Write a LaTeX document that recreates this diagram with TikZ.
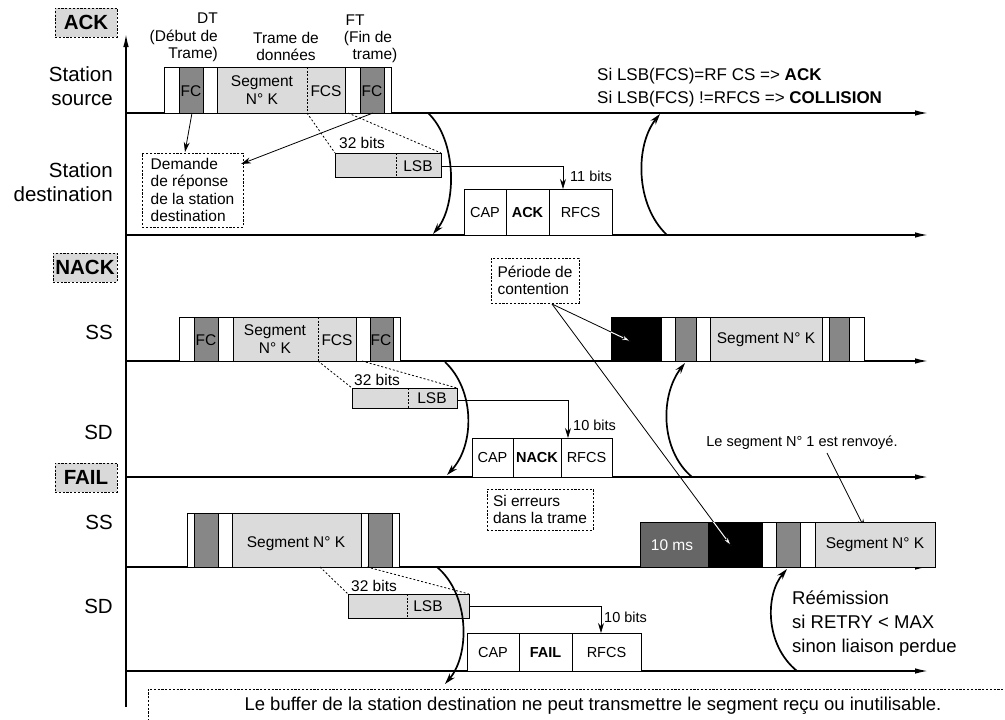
\documentclass[tikz,border=0pt]{standalone}
\usepackage{fontspec}
\setmainfont{Liberation Sans}
\usetikzlibrary{arrows.meta,calc}
\definecolor{fcgray}{gray}{0.53}
\definecolor{seggray}{gray}{0.86}
\definecolor{msgray}{gray}{0.40}
\definecolor{lblgray}{gray}{0.85}
\newcommand\cellbox[5]{\filldraw[fill=#5,draw=black,line width=0.8pt] (#1,#3) rectangle (#2,#4);}
\tikzset{
  axis/.style={line width=1.8pt,-{Latex[length=14pt,width=5.5pt]}},
  curvy/.style={line width=1.7pt,-{Stealth[length=11pt,width=6.5pt]}},
  thinarrow/.style={line width=0.8pt,-{Stealth[length=10pt,width=6pt]}},
  wharrow/.style={line width=0.8pt,-{Stealth[length=14pt,width=8pt,fill=white]}},
  dotline/.style={line width=0.8pt,dash pattern=on 2pt off 2pt},
  divline/.style={line width=0.8pt,dash pattern=on 2pt off 1.5pt},
  dashbox/.style={draw,line width=0.8pt,dash pattern=on 2.2pt off 1.6pt},
  lbl/.style={dashbox,fill=lblgray,font=\fontsize{20.5}{22}\selectfont\bfseries,minimum width=62pt,minimum height=29pt,inner sep=0pt},
  big/.style={font=\fontsize{20.5}{24}\selectfont,inner sep=0pt,align=right,anchor=east},
  t/.style={font=\fontsize{15.5}{17.5}\selectfont,inner sep=0pt},
  ts/.style={font=\fontsize{14.5}{17}\selectfont,inner sep=0pt},
  tm/.style={font=\fontsize{17}{23}\selectfont,inner sep=0pt},
}
\begin{document}
\begin{tikzpicture}[x=1pt,y=-1pt]
\useasboundingbox (0,0) rectangle (1005,720);
% axes
\coordinate (ax0) at (126,707);
\coordinate (axtop) at (126,33);
\draw[axis] (ax0) -- (axtop);
\foreach \i/\yy in {1/113,2/235,3/361,4/477,5/567,6/671}{
  \coordinate (L\i s) at (125,\yy);
  \coordinate (L\i e) at (929,\yy);
  \draw[axis] (L\i s) -- (L\i e);
}
% section labels
\node[lbl] (ack) at (86,22.5) {ACK};
\node[lbl,minimum width=64pt] (nack) at (85,267.5) {NACK};
\node[lbl] (fail) at (86,477.5) {FAIL};
\node[big] (stsrc) at (113,86) {Station\\source};
\node[big] (stdst) at (113,182) {Station\\destination};
\node[big] (ss1) at (113,332) {SS};
\node[big] (sd1) at (113,432) {SD};
\node[big] (ss2) at (113,522) {SS};
\node[big] (sd2) at (113,606) {SD};

% ===== ACK =====
\cellbox{164}{179}{67}{113}{white}
\cellbox{179}{203}{67}{113}{fcgray}
\cellbox{203}{217}{67}{113}{white}
\cellbox{217}{345}{67}{113}{seggray}
\cellbox{345}{360}{67}{113}{white}
\cellbox{360}{384}{67}{113}{fcgray}
\cellbox{384}{391}{67}{113}{white}
\draw[divline] (307,67) -- (307,113);
\node[t] (fc1) at (191,91) {FC};
\node[t,align=center] (seg1) at (262,90) {Segment\\N° K};
\node[t] (fcs1) at (326,91) {FCS};
\node[t] (fc2) at (372,91) {FC};
\node[t,align=right,anchor=east] (dt) at (218,37.5) {DT\\(Début de\\Trame)};
\node[t,align=center] (tdd) at (286,46.5) {Trame de\\données};
\node[t] (ft1) at (355,20) {FT};
\node[t] (ft2) at (368,38) {(Fin de};
\node[t] (ft3) at (375,55.5) {trame)};
% 32 bits
\coordinate (a1) at (307,113); \coordinate (a2) at (335,153);
\coordinate (a3) at (348,113); \coordinate (a4) at (441,153);
\draw[dotline] (a1) -- (a2);
\draw[dotline] (a3) -- (a4);
\cellbox{335}{441}{153}{177}{seggray}
\draw[divline] (396,153) -- (396,177);
\node[t] (lsb1) at (418,166) {LSB};
\node[t] (b32a) at (362,143) {32 bits};
\cellbox{464}{506}{189}{235}{white}
\cellbox{506}{549}{189}{235}{white}
\cellbox{549}{612}{189}{235}{white}
\node[ts] (cap1) at (485,213) {CAP};
\node[ts] (ackw) at (527.5,213) {\bfseries ACK};
\node[ts] (rfcs1) at (580.5,213) {RFCS};
\coordinate (c1) at (441,166); \coordinate (c2) at (563,189);
\draw[thinarrow] (c1) -| (c2);
\node[ts,anchor=west] (b11) at (570,176) {11 bits};
% demande
\node[dashbox,t,align=left,minimum width=101pt,minimum height=74pt] (dem) at (192.5,190) {Demande\\de réponse\\de la station\\destination};
\coordinate (d1) at (192,113); \coordinate (d2) at (185,152);
\coordinate (d3) at (373,113); \coordinate (d4) at (241,164);
\draw[thinarrow] (d1) -- (d2);
\draw[thinarrow] (d3) -- (d4);
% curves
\coordinate (k1) at (428,113); \coordinate (k2) at (433,234);
\draw[curvy] (k1) .. controls (457,140) and (457,205) .. (k2);
\coordinate (k3) at (667,235); \coordinate (k4) at (660,114);
\draw[curvy] (k3) .. controls (635,205) and (635,145) .. (k4);
\node[tm,align=left,anchor=west] (silsb) at (597,87.5) {Si LSB(FCS)=RF CS => \textbf{ACK}\\Si LSB(FCS) !=RFCS => \textbf{COLLISION}};

% ===== NACK =====
\cellbox{179}{194}{317}{361}{white}
\cellbox{194}{218}{317}{361}{fcgray}
\cellbox{218}{233}{317}{361}{white}
\cellbox{233}{356}{317}{361}{seggray}
\cellbox{356}{370}{317}{361}{white}
\cellbox{370}{393}{317}{361}{fcgray}
\cellbox{393}{400}{317}{361}{white}
\draw[divline] (318,317) -- (318,361);
\node[t] (fc3) at (206,340) {FC};
\node[t,align=center] (seg2) at (275,339) {Segment\\N° K};
\node[t] (fcs2) at (337,340) {FCS};
\node[t] (fc4) at (381,340) {FC};
\coordinate (e1) at (318,361); \coordinate (e2) at (352,388);
\coordinate (e3) at (362,361); \coordinate (e4) at (457,388);
\draw[dotline] (e1) -- (e2);
\draw[dotline] (e3) -- (e4);
\cellbox{352}{457}{388}{408}{seggray}
\draw[divline] (408,388) -- (408,408);
\node[t] (lsb2) at (432,398.5) {LSB};
\node[t] (b32b) at (377,380) {32 bits};
\cellbox{472}{513}{438}{477}{white}
\cellbox{513}{561}{438}{477}{white}
\cellbox{561}{612}{438}{477}{white}
\node[ts] (cap2) at (492.5,458) {CAP};
\node[ts] (nackw) at (537,458) {\bfseries NACK};
\node[ts] (rfcs2) at (586.5,458) {RFCS};
\coordinate (f1) at (457,400); \coordinate (f2) at (568,438);
\draw[thinarrow] (f1) -| (f2);
\node[ts,anchor=west] (b10a) at (573,425) {10 bits};
\coordinate (k5) at (445,362); \coordinate (k6) at (447,475);
\draw[curvy] (k5) .. controls (475,390) and (475,445) .. (k6);
\coordinate (k7) at (692,477); \coordinate (k8) at (685,363);
\draw[curvy] (k7) .. controls (660,450) and (660,395) .. (k8);
% right NACK frame
\cellbox{611}{661}{317}{361}{black}
\cellbox{661}{675}{317}{361}{white}
\cellbox{675}{696}{317}{361}{fcgray}
\cellbox{696}{710}{317}{361}{white}
\cellbox{710}{822}{317}{361}{seggray}
\cellbox{822}{829}{317}{361}{white}
\cellbox{829}{849}{317}{361}{fcgray}
\cellbox{849}{864}{317}{361}{white}
\node[t] (seg3) at (766,340) {Segment N° K};
% contention
\node[dashbox,t,align=left,minimum width=88pt,minimum height=45pt] (cont) at (535,280.5) {Période de\\contention};
\coordinate (g0) at (552,304);
\coordinate (g1) at (632,342);
\coordinate (g2) at (732,547);
\draw[wharrow] (g0) -- (g1);
\begin{scope}
\clip (611,317) rectangle (661,361);
\draw[line width=1pt,white,shorten >=10pt] (g0) -- (g1);
\end{scope}
\node[ts] (renv) at (802,443) {Le segment N° 1 est renvoyé.};
\coordinate (h1) at (827,453); \coordinate (h2) at (865,529);
\draw[thinarrow] (h1) -- (h2);

% ===== FAIL =====
\cellbox{187}{194}{513}{567}{white}
\cellbox{194}{218}{513}{567}{fcgray}
\cellbox{218}{232}{513}{567}{white}
\cellbox{232}{361}{513}{567}{seggray}
\cellbox{361}{368}{513}{567}{white}
\cellbox{368}{392}{513}{567}{fcgray}
\cellbox{392}{399}{513}{567}{white}
\node[t] (seg4) at (296,544) {Segment N° K};
\coordinate (m1) at (320,567); \coordinate (m2) at (348,594);
\coordinate (m3) at (367,567); \coordinate (m4) at (469,594);
\draw[dotline] (m1) -- (m2);
\draw[dotline] (m3) -- (m4);
\cellbox{348}{469}{594}{618}{seggray}
\draw[divline] (407,594) -- (407,618);
\node[t] (lsb3) at (428,606.5) {LSB};
\node[t] (b32c) at (374,586) {32 bits};
\cellbox{467}{519}{633}{671}{white}
\cellbox{519}{572}{633}{671}{white}
\cellbox{572}{641}{633}{671}{white}
\node[ts] (cap3) at (493,653) {CAP};
\node[ts] (failw) at (545.5,653) {\bfseries FAIL};
\node[ts] (rfcs3) at (606.5,653) {RFCS};
\coordinate (n1) at (469,606); \coordinate (n2) at (601,633);
\draw[thinarrow] (n1) -| (n2);
\node[ts,anchor=west] (b10b) at (604,617) {10 bits};
\coordinate (k9) at (437,567); \coordinate (k10) at (445,684);
\draw[curvy] (k9) .. controls (470,595) and (470,655) .. (k10);
\coordinate (k11) at (797,671); \coordinate (k12) at (787,569);
\draw[curvy] (k11) .. controls (765,645) and (765,595) .. (k12);
\node[tm,font=\fontsize{18.5}{24}\selectfont,align=left,anchor=west] (reem) at (792,624) {Réémission\\si RETRY < MAX\\sinon liaison perdue};
\node[dashbox,t,align=left,minimum width=106pt,minimum height=41pt] (serr) at (540,509.5) {Si erreurs\\dans la trame};
% right FAIL frame
\cellbox{640}{708}{522}{567}{msgray}
\cellbox{708}{762}{522}{567}{black}
\cellbox{762}{776}{522}{567}{white}
\cellbox{776}{800}{522}{567}{fcgray}
\cellbox{800}{815}{522}{567}{white}
\cellbox{815}{935}{522}{567}{seggray}
\node[t,white] (ms) at (672,545) {10 ms};
\node[t] (seg5) at (875,545) {Segment N° K};
\draw[wharrow] (g0) -- (g2);
\begin{scope}
\clip (708,522) rectangle (762,567);
\draw[line width=1pt,white,shorten >=10pt] (g0) -- (g2);
\end{scope}
% bottom
\coordinate (bb1) at (148,725); \coordinate (bb2) at (148,689); \coordinate (bb3) at (1010,689);
\draw[line width=0.8pt,dash pattern=on 2.2pt off 1.6pt] (bb1) -- (bb2) -- (bb3);
\node[tm,font=\fontsize{18.5}{20}\selectfont] (buf) at (593,706) {Le buffer de la station destination ne peut transmettre le segment reçu ou inutilisable.};
\end{tikzpicture}
\end{document}
